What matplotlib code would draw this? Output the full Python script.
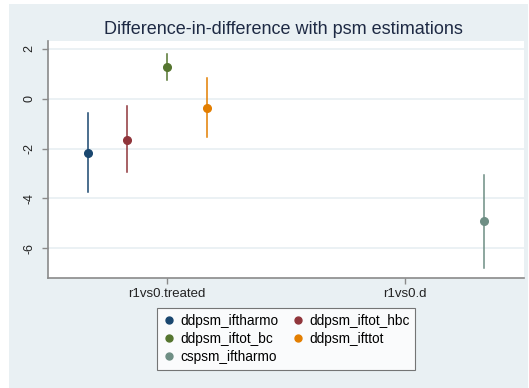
import matplotlib.pyplot as plt
from matplotlib.patches import Rectangle
from matplotlib.lines import Line2D

plt.rcParams['font.family'] = ['Liberation Sans', 'DejaVu Sans']

# coefficient estimates with 95% confidence intervals
series = ['ddpsm_iftharmo', 'ddpsm_iftot_hbc', 'ddpsm_iftot_bc', 'ddpsm_ifttot', 'cspsm_iftharmo']
category = [1, 1, 1, 1, 2]
coef = [-2.16, -1.65, 1.27, -0.37, -4.93]
ci_low = [-3.75, -2.96, 0.76, -1.55, -6.81]
ci_high = [-0.57, -0.31, 1.79, 0.83, -3.07]
colors = ['#1a476f', '#90353b', '#55752f', '#e37e00', '#6e8e84']

cat_labels = ['r1vs0.treated', 'r1vs0.d']
y_ticks = [2, 0, -2, -4, -6]

W, H = 529, 388
fig = plt.figure(figsize=(W / 100, H / 100), dpi=100)
fig.patch.set_facecolor('white')

# graph region
bg = '#e9f0f3'
fig.patches.append(Rectangle((9 / W, 0), (528 - 9) / W, (H - 4) / H,
                             transform=fig.transFigure, facecolor=bg,
                             edgecolor='none', zorder=-1))

ax = fig.add_axes([48 / W, (H - 278) / H, (524 - 48) / W, (278 - 41) / H])
ax.set_zorder(1)
ax.set_facecolor('white')

offsets = [-2, -1, 0, 1, 2]
for i, name in enumerate(series):
    x = category[i] + offsets[i] / 6
    ax.plot([x, x], [ci_low[i], ci_high[i]], color=colors[i], lw=1.1, zorder=3)
    ax.plot(x, coef[i], 'o', color=colors[i], ms=5.5, zorder=4)

ax.set_xlim(0.5, 2.5)
ax.set_ylim(-7.2, 2.32)
ax.set_yticks(y_ticks)
ax.set_yticklabels([str(v) for v in y_ticks], rotation=90, va='center',
                   fontsize=9, color='#222222')
ax.set_xticks([1, 2])
ax.set_xticklabels(cat_labels, fontsize=9.5, color='#222222')
ax.grid(axis='y', color=bg, lw=1.3)
ax.set_axisbelow(True)

for s in ['top', 'right']:
    ax.spines[s].set_visible(False)
for s in ['left', 'bottom']:
    ax.spines[s].set_color('#8a8a8a')
    ax.spines[s].set_linewidth(1.2)
ax.tick_params(axis='both', color='#8a8a8a', length=4, width=1, pad=3)
ax.tick_params(axis='y', pad=5)

fig.text(283 / W, 1 - 29 / H, 'Difference-in-difference with psm estimations',
         ha='center', va='center', fontsize=13, color='#1e2a44')

# legend filled row by row
order = [0, 2, 4, 1, 3]
handles = [Line2D([], [], ls='none', marker='o', ms=5, color=colors[i]) for i in order]
labels = [series[i] for i in order]
leg = fig.legend(handles, labels, loc='center', ncol=2,
                 bbox_to_anchor=(286 / W, 1 - 339 / H), fontsize=9.8,
                 frameon=True, fancybox=False, edgecolor='#555555',
                 handletextpad=0.3, columnspacing=1.0, labelspacing=0.3,
                 borderpad=0.4, handlelength=1.0)
leg.get_frame().set_linewidth(0.8)
leg.set_zorder(2)

fig.savefig('out.png', dpi=100)
